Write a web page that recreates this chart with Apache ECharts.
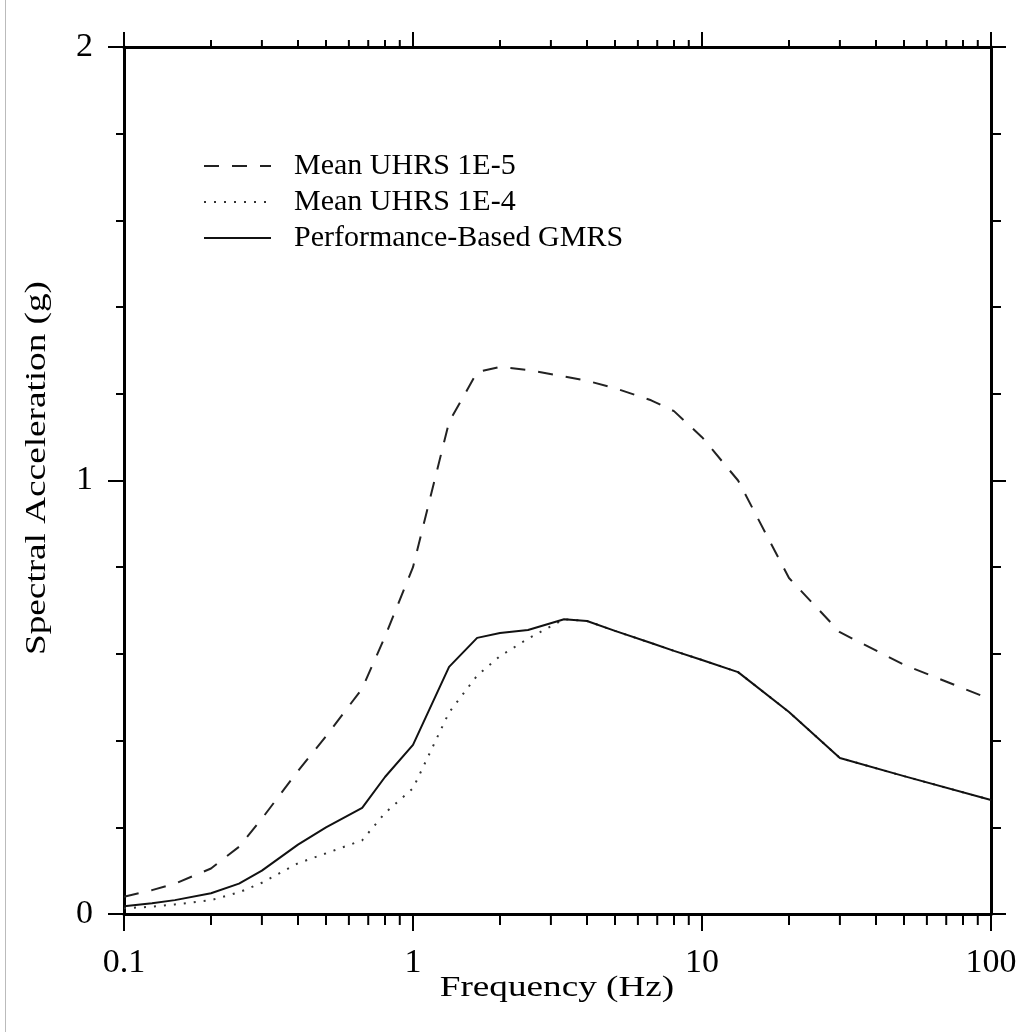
<!DOCTYPE html>
<html>
<head>
<meta charset="utf-8">
<script src="https://cdn.jsdelivr.net/npm/echarts@6/dist/echarts.min.js"></script>
<style>
  html, body { margin: 0; padding: 0; background: #fff; }
  #chart { width: 1026px; height: 1032px; }
</style>
</head>
<body>
<div id="chart"></div>
<script>
// frequencies (Hz) shared by all three spectra
var freqs = [0.1, 0.125, 0.15, 0.2, 0.25, 0.3, 0.4, 0.5, 0.667, 0.8, 1, 1.333, 1.667, 2, 2.5, 3.333, 4, 5, 6.667, 8, 10, 13.33, 20, 30, 50, 100];

// spectral acceleration (g)
var uhrs1e5 = [0.04, 0.055, 0.07, 0.105, 0.155, 0.22, 0.33, 0.41, 0.52, 0.64, 0.80, 1.135, 1.25, 1.262, 1.255, 1.24, 1.23, 1.213, 1.185, 1.16, 1.10, 1.0, 0.775, 0.65, 0.575, 0.495];
var uhrs1e4 = [0.013, 0.017, 0.022, 0.032, 0.05, 0.072, 0.117, 0.14, 0.17, 0.233, 0.29, 0.465, 0.55, 0.595, 0.635, 0.68, 0.676, 0.653, 0.625, 0.607, 0.586, 0.558, 0.466, 0.36, 0.318, 0.263];
var gmrs = [0.018, 0.025, 0.032, 0.048, 0.07, 0.10, 0.16, 0.20, 0.245, 0.316, 0.39, 0.57, 0.637, 0.648, 0.655, 0.68, 0.676, 0.653, 0.625, 0.607, 0.586, 0.558, 0.466, 0.36, 0.318, 0.263];

var seriesNames = ['Mean UHRS 1E-5', 'Mean UHRS 1E-4', 'Performance-Based GMRS'];

// minor log ticks 2..9 in each decade
var minorFreqs = [];
[0.1, 1, 10].forEach(function (d) {
  for (var k = 2; k <= 9; k++) minorFreqs.push(+(k * d).toPrecision(3));
});

function pairs(ys) {
  return freqs.map(function (f, i) { return [f, ys[i]]; });
}

var serif = '"Liberation Serif", "Times New Roman", serif';
var chart = echarts.init(document.getElementById('chart'));

var axisLine = { show: true, onZero: false, lineStyle: { color: '#000', width: 3 } };

var option = {
  backgroundColor: '#fff',
  animation: false,
  grid: { left: 124, top: 47, width: 867, height: 867 },
  legend: {
    orient: 'vertical',
    left: 203,
    top: 151,
    padding: 0,
    itemWidth: 67,
    itemHeight: 14,
    itemGap: 6,
    data: seriesNames,
    itemStyle: { opacity: 0 },
    textStyle: { fontFamily: serif, fontSize: 30, color: '#000', lineHeight: 30, padding: [0, 0, 0, 18] }
  },
  xAxis: [{
    type: 'log', logBase: 10, min: 0.1, max: 100, position: 'bottom',
    axisLine: axisLine,
    axisTick: { show: true, inside: false, length: 17, lineStyle: { color: '#000', width: 2 } },
    axisLabel: {
      margin: 32, fontFamily: serif, fontSize: 34, color: '#000',
      formatter: function (v) { return String(+v.toPrecision(3)); }
    },
    splitLine: { show: false }
  }, {
    type: 'log', logBase: 10, min: 0.1, max: 100, position: 'top',
    axisLine: axisLine,
    axisTick: { show: true, inside: false, length: 15, lineStyle: { color: '#000', width: 2 } },
    axisLabel: { show: false },
    splitLine: { show: false }
  }],
  yAxis: [{
    type: 'value', min: 0, max: 2, interval: 1, position: 'left',
    axisLine: axisLine,
    axisTick: { show: true, inside: false, length: 16, lineStyle: { color: '#000', width: 2 } },
    minorTick: { show: true, splitNumber: 5, length: 8, lineStyle: { color: '#000', width: 2 } },
    axisLabel: { margin: 31, fontFamily: serif, fontSize: 34, color: '#000' },
    splitLine: { show: false }
  }, {
    type: 'value', min: 0, max: 2, interval: 1, position: 'right',
    axisLine: axisLine,
    axisTick: { show: true, inside: false, length: 15, lineStyle: { color: '#000', width: 2 } },
    minorTick: { show: true, splitNumber: 5, length: 10, lineStyle: { color: '#000', width: 2 } },
    axisLabel: { show: false },
    splitLine: { show: false }
  }],
  graphic: [
    { type: 'line', shape: { x1: 5.5, y1: 0, x2: 5.5, y2: 1032 }, style: { stroke: '#bbb', lineWidth: 1 } },
    {
      type: 'text', x: 557, y: 988, scaleX: 1.24,
      style: { text: 'Frequency (Hz)', fontFamily: serif, fontSize: 30, fill: '#000', align: 'center', verticalAlign: 'middle' }
    },
    {
      type: 'text', x: 37, y: 468, rotation: Math.PI / 2, scaleX: 1.24,
      style: { text: 'Spectral Acceleration (g)', fontFamily: serif, fontSize: 30, fill: '#000', align: 'center', verticalAlign: 'middle' }
    }
  ],
  series: [{
    name: seriesNames[0], type: 'line', xAxisIndex: 0, yAxisIndex: 0,
    data: pairs(uhrs1e5), showSymbol: false, symbol: 'none',
    lineStyle: { color: '#222', width: 2, type: [15, 13] },
    itemStyle: { color: '#222' }
  }, {
    name: seriesNames[1], type: 'line', xAxisIndex: 0, yAxisIndex: 0,
    data: pairs(uhrs1e4), showSymbol: false, symbol: 'none',
    lineStyle: { color: '#333', width: 2, type: [2, 8] },
    itemStyle: { color: '#333' }
  }, {
    name: seriesNames[2], type: 'line', xAxisIndex: 0, yAxisIndex: 0,
    data: pairs(gmrs), showSymbol: false, symbol: 'none',
    lineStyle: { color: '#111', width: 2 },
    itemStyle: { color: '#111' }
  }, {
    name: 'minor ticks', type: 'custom', xAxisIndex: 0, yAxisIndex: 0,
    data: minorFreqs.map(function (f) { return [f, 0]; }),
    clip: false, silent: true, z: 5,
    renderItem: function (params, api) {
      var f = api.value(0);
      var b = api.coord([f, 0]);
      var t = api.coord([f, 2]);
      var st = { stroke: '#000', lineWidth: 2 };
      return {
        type: 'group',
        children: [
          { type: 'line', shape: { x1: b[0], y1: b[1], x2: b[0], y2: b[1] + 11 }, style: st },
          { type: 'line', shape: { x1: t[0], y1: t[1], x2: t[0], y2: t[1] - 7 }, style: st }
        ]
      };
    }
  }]
};

chart.setOption(option);
</script>
</body>
</html>
